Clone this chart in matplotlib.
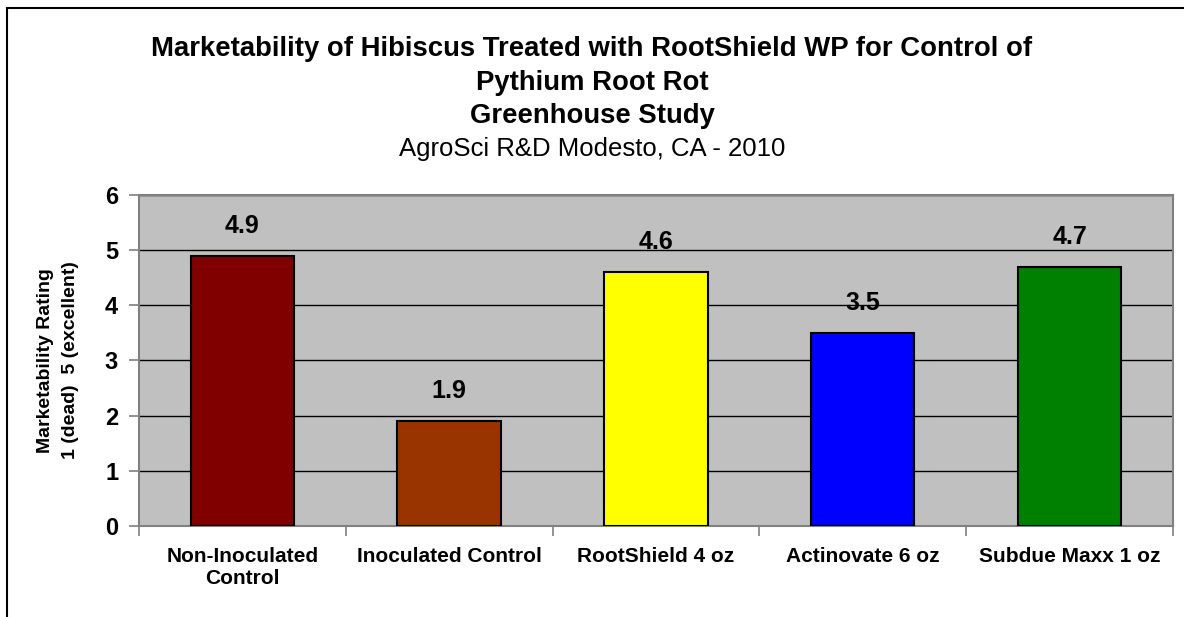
import matplotlib.pyplot as plt
from matplotlib.patches import Rectangle

# data
treatments = ["Non-Inoculated\nControl", "Inoculated Control", "RootShield 4 oz",
              "Actinovate 6 oz", "Subdue Maxx 1 oz"]
ratings = [4.9, 1.9, 4.6, 3.5, 4.7]
bar_colors = ["#800000", "#993300", "#FFFF00", "#0000FF", "#008000"]

plt.rcParams['font.family'] = ['Liberation Sans', 'DejaVu Sans']

fig = plt.figure(figsize=(11.84, 6.17), dpi=100)
ax = fig.add_axes([0.1174, 0.1475, 0.8733, 0.5365])
ax.set_facecolor('#C0C0C0')

x = list(range(len(treatments)))
bars = ax.bar(x, ratings, width=0.5, color=bar_colors, edgecolor='black', linewidth=1.5, zorder=3)

for xi, v in zip(x, ratings):
    ax.annotate(f"{v}", (xi, v), xytext=(0, 13), textcoords='offset points',
                ha='center', va='bottom', fontsize=18, fontweight='bold')

ax.set_xlim(-0.5, len(treatments) - 0.5)
ax.set_ylim(0, 6)
ax.set_yticks(range(0, 7))
ax.yaxis.grid(True, color='black', linewidth=1.0, zorder=0)
ax.set_axisbelow(True)

ax.set_xticks(x)
ax.set_xticklabels(treatments, fontsize=15, fontweight='bold', linespacing=1.2)
ax.set_xticks([i - 0.5 for i in range(len(treatments) + 1)], minor=True)
ax.tick_params(axis='x', which='major', length=0, pad=15)
ax.tick_params(axis='x', which='minor', length=7, color='#808080', width=1.2)
ax.tick_params(axis='y', length=7, color='#808080', width=1.2, labelsize=17, pad=8)
for lbl in ax.get_yticklabels():
    lbl.set_fontweight('bold')

for s in ax.spines.values():
    s.set_color('#808080')
    s.set_linewidth(1.5)

ax.set_ylabel("Marketability Rating\n1 (dead)  5 (excellent)", fontsize=14,
              fontweight='bold', linespacing=1.65)
ax.yaxis.set_label_coords(-60 / 1034, 0.5)

# titles
fig.text(0.5, 1 - 49 / 617, "Marketability of Hibiscus Treated with RootShield WP for Control of",
         ha='center', va='center', fontsize=19.8, fontweight='bold')
fig.text(0.5, 1 - 83 / 617, "Pythium Root Rot", ha='center', va='center', fontsize=19.8, fontweight='bold')
fig.text(0.5, 1 - 116 / 617, "Greenhouse Study", ha='center', va='center', fontsize=19.8, fontweight='bold')
fig.text(0.5, 1 - 149 / 617, "AgroSci R&D Modesto, CA - 2010", ha='center', va='center', fontsize=18.5)

# chart border (cropped at right and bottom)
fig.add_artist(Rectangle((7 / 1184, -0.1), 1.2, 1 - 8 / 617 + 0.1, transform=fig.transFigure,
                         fill=False, edgecolor='black', linewidth=1.5))

fig.savefig('out.png', dpi=100)
